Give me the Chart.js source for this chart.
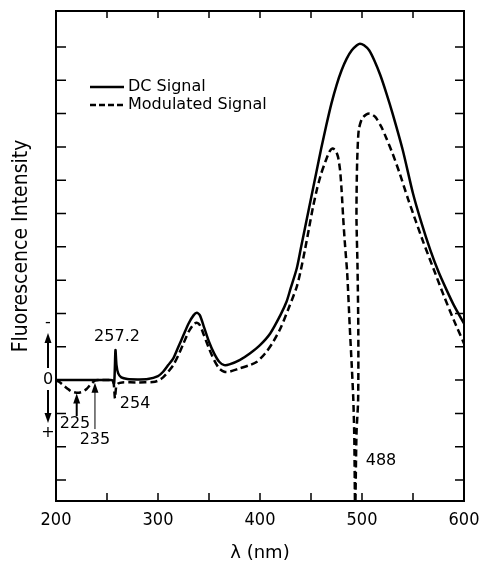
<!DOCTYPE html>
<html>
<head>
<meta charset="utf-8">
<script src="https://cdn.jsdelivr.net/npm/chart.js@4.4.1/dist/chart.umd.min.js"></script>
<style>
  html, body { margin: 0; padding: 0; background: #fff; }
  #wrap { width: 479px; height: 562px; }
</style>
</head>
<body>
<div id="wrap"><canvas id="spectrum" width="479" height="562"></canvas></div>
<script>
// wavelength axis (nm) and tick marks
const xTicks = [200, 250, 300, 350, 400, 450, 500, 550, 600];
const yTicks = [-3, -2, -1, 0, 1, 2, 3, 4, 5, 6, 7, 8, 9, 10];

// DC signal (solid)
const dcWavelength = [200, 250, 255, 257, 258.3, 259.3, 261, 264, 270, 280,
    290, 300, 305, 310, 315, 320, 325, 330, 335, 338,
    341, 345, 350, 355, 360, 365, 370, 380, 390, 400,
    410, 420, 426, 430, 436, 440, 445, 450, 455, 460,
    465, 470, 475, 480, 485, 490, 495, 498, 502, 507,
    512, 518, 524, 530, 540, 550, 558, 567, 575, 583,
    590, 600];
const dcIntensity = [0, 0, 0, -0.1, 0.9, 0.45, 0.2, 0.08, 0.03, 0.02,
    0.03, 0.12, 0.25, 0.45, 0.65, 1.0, 1.35, 1.7, 1.95, 2.02,
    1.95, 1.6, 1.15, 0.8, 0.55, 0.45, 0.47, 0.6, 0.8, 1.05,
    1.4, 1.95, 2.35, 2.75, 3.35, 3.95, 4.7, 5.45, 6.2, 6.95,
    7.65, 8.3, 8.85, 9.3, 9.65, 9.9, 10.05, 10.1, 10.05, 9.9,
    9.6, 9.15, 8.6, 8.0, 6.9, 5.6, 4.75, 3.9, 3.25, 2.7,
    2.25, 1.7];

// Modulated signal (dashed)
const modWavelength = [200, 203, 207, 211, 215, 220, 225, 230, 234, 238,
    242, 252, 256, 257.8, 259, 261, 265, 280, 295, 300,
    305, 310, 315, 320, 325, 330, 335, 338, 341, 345,
    350, 355, 360, 365, 370, 380, 390, 397, 405, 412,
    420, 428, 436, 440, 444, 448, 452, 456, 460, 464,
    468, 471, 474, 476.5, 478.5, 480, 481.5, 483, 485.5, 488,
    490, 491.5, 492.5, 493.3, 494.6, 496.2, 496.4, 495.6, 494.6, 494.7,
    495.3, 496.8, 500, 504, 507.8, 513, 519, 524, 530, 537,
    545, 553, 560, 570, 580, 590, 600];
const modIntensity = [0, -0.05, -0.15, -0.25, -0.34, -0.38, -0.36, -0.27, -0.13, -0.02,
    0, 0, 0, -0.55, -0.2, -0.1, -0.07, -0.07, -0.06, -0.02,
    0.08, 0.25, 0.45, 0.75, 1.1, 1.45, 1.68, 1.72, 1.65, 1.35,
    0.95, 0.6, 0.35, 0.25, 0.25, 0.35, 0.45, 0.55, 0.8, 1.1,
    1.55, 2.15, 2.8, 3.3, 3.9, 4.55, 5.2, 5.75, 6.2, 6.55,
    6.85, 6.95, 6.9, 6.7, 6.3, 5.7, 4.9, 4.2, 3.2, 1.6,
    0.4, -0.6, -1.8, -4, -1.6, -0.6, 1.4, 3.4, 4.8, 5.6,
    6.6, 7.5, 7.85, 7.97, 8.0, 7.9, 7.6, 7.25, 6.8, 6.2,
    5.45, 4.75, 4.15, 3.35, 2.55, 1.8, 1.1];

const seriesNames = ['DC Signal', 'Modulated Signal'];
const peakLabels = ['257.2', '254', '225', '235', '488'];

const toPoints = (xs, ys) => xs.map((w, i) => ({ x: w, y: ys[i] }));

function arrow(ctx, x, yBase, yTip, width) {
    const dir = yTip < yBase ? 1 : -1;
    ctx.lineWidth = width;
    ctx.beginPath();
    ctx.moveTo(x, yBase);
    ctx.lineTo(x, yTip + dir * 6);
    ctx.stroke();
    ctx.beginPath();
    ctx.moveTo(x, yTip);
    ctx.lineTo(x - 3.5, yTip + dir * 10);
    ctx.lineTo(x + 3.5, yTip + dir * 10);
    ctx.closePath();
    ctx.fill();
}

// frame, inward ticks, legend, annotations
const decorations = {
    id: 'decorations',
    afterDraw(chart) {
        const { ctx, chartArea: a, scales: { x, y } } = chart;
        ctx.save();
        ctx.strokeStyle = '#000';
        ctx.fillStyle = '#000';

        ctx.lineWidth = 2;
        ctx.strokeRect(a.left, a.top, a.right - a.left, a.bottom - a.top);

        ctx.lineWidth = 1.5;
        ctx.beginPath();
        xTicks.slice(1, -1).forEach(v => {
            const px = x.getPixelForValue(v);
            ctx.moveTo(px, a.bottom); ctx.lineTo(px, a.bottom - 8);
            ctx.moveTo(px, a.top); ctx.lineTo(px, a.top + 7);
        });
        yTicks.forEach(v => {
            const py = y.getPixelForValue(v);
            ctx.moveTo(a.left, py); ctx.lineTo(a.left + 10, py);
            ctx.moveTo(a.right, py); ctx.lineTo(a.right - 9, py);
        });
        ctx.stroke();

        // legend
        ctx.font = '16px "DejaVu Sans"';
        ctx.textBaseline = 'middle';
        ctx.textAlign = 'left';
        ctx.lineWidth = 2.5;
        ctx.beginPath(); ctx.moveTo(90, 87); ctx.lineTo(124, 87); ctx.stroke();
        ctx.setLineDash([6, 3]);
        ctx.beginPath(); ctx.moveTo(90, 105); ctx.lineTo(124, 105); ctx.stroke();
        ctx.setLineDash([]);
        ctx.fillText(seriesNames[0], 128, 87);
        ctx.fillText(seriesNames[1], 128, 105);

        // peak labels, anchored in data space
        const anchors = [[259.8, 1.29], [277.5, -0.72], [218.6, -1.32], [238.2, -1.8], [518.6, -2.43]];
        ctx.textAlign = 'center';
        peakLabels.forEach((t, i) => {
            ctx.fillText(t, x.getPixelForValue(anchors[i][0]), y.getPixelForValue(anchors[i][1]));
        });

        // arrows to 225 and 235
        arrow(ctx, x.getPixelForValue(220.3), y.getPixelForValue(-1.08), y.getPixelForValue(-0.4), 2);
        arrow(ctx, x.getPixelForValue(238.2), y.getPixelForValue(-1.47), y.getPixelForValue(-0.08), 1);

        // sign key on the left of the zero line
        const z = y.getPixelForValue(0);
        const kx = 48;
        ctx.fillText('0', kx, z);
        ctx.fillText('-', kx, z - 57);
        ctx.fillText('+', kx, z + 53);
        arrow(ctx, kx, z - 12, z - 47, 2);
        arrow(ctx, kx, z + 10, z + 43, 2);

        // y title
        ctx.translate(22, 246);
        ctx.rotate(-Math.PI / 2);
        ctx.font = '21px "DejaVu Sans Condensed", "DejaVu Sans"';
        ctx.fillText('Fluorescence Intensity', 0, 0);
        ctx.restore();
    }
};

new Chart(document.getElementById('spectrum'), {
    type: 'line',
    data: {
        datasets: [
            {
                label: seriesNames[0],
                data: toPoints(dcWavelength, dcIntensity),
                borderColor: '#000',
                borderWidth: 2.5,
                pointRadius: 0,
                tension: 0.25,
                fill: false
            },
            {
                label: seriesNames[1],
                data: toPoints(modWavelength, modIntensity),
                borderColor: '#000',
                borderWidth: 2.5,
                borderDash: [7, 4],
                pointRadius: 0,
                tension: 0.25,
                fill: false
            }
        ]
    },
    options: {
        responsive: false,
        animation: false,
        layout: { padding: { left: 56, right: 15, top: 11, bottom: 0 } },
        plugins: { legend: { display: false }, tooltip: { enabled: false } },
        scales: {
            x: {
                type: 'linear',
                min: 200,
                max: 600,
                grid: { display: false, drawTicks: false },
                border: { display: false },
                afterBuildTicks: axis => { axis.ticks = xTicks.map(v => ({ value: v })); },
                afterFit: axis => {
                    axis.height = 61;
                    axis.paddingLeft = 0;
                    axis.paddingRight = 0;
                },
                ticks: {
                    autoSkip: false,
                    maxRotation: 0,
                    padding: 9,
                    color: '#000',
                    font: { family: '"DejaVu Sans Condensed", "DejaVu Sans"', size: 18 },
                    callback: v => (v % 100 === 0 ? String(v) : '')
                },
                title: {
                    display: true,
                    text: 'λ (nm)',
                    color: '#000',
                    padding: 0,
                    font: { family: '"DejaVu Sans"', size: 18, lineHeight: 1 }
                }
            },
            y: {
                type: 'linear',
                min: -3.63,
                max: 11.08,
                display: false
            }
        }
    },
    plugins: [decorations]
});
</script>
</body>
</html>
